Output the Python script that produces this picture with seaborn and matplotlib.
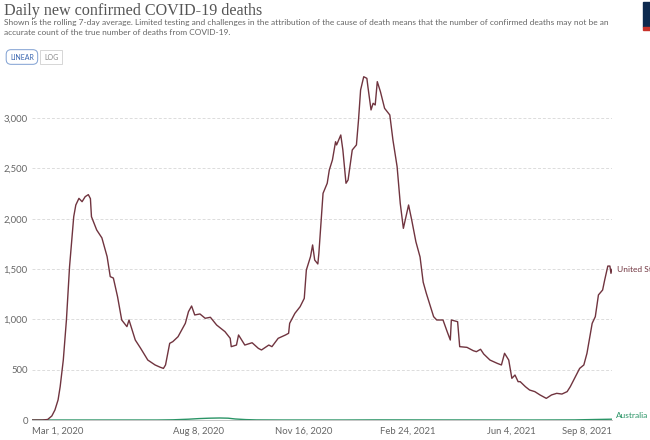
import numpy as np
import pandas as pd
import matplotlib
matplotlib.use("Agg")
import matplotlib.pyplot as plt
from matplotlib.patches import Rectangle
import seaborn as sns

# Données (jours depuis le 1er mars 2020, moyenne glissante 7 jours)
debut = pd.Timestamp("2020-03-01")

us_jours = [0, 10, 15, 19, 22, 25, 27, 30, 33, 36, 40, 42, 45, 48, 51, 54, 56, 57, 62, 67,
            72, 75, 78, 82, 86, 91, 93, 99, 104, 111, 118, 123, 126, 128, 132, 135, 140, 147,
            150, 153, 156, 161, 166, 171, 177, 185, 190, 191, 196, 198, 204, 211, 217, 220,
            227, 230, 236, 243, 246, 247, 252, 257, 261, 263, 267, 269, 271, 274, 275, 279,
            283, 285, 288, 291, 292, 296, 298, 301, 303, 307, 311, 313, 315, 318, 321, 322,
            325, 327, 329, 331, 334, 336, 338, 343, 346, 350, 353, 356, 361, 364, 368, 372,
            375, 378, 382, 385, 388, 391, 394, 398, 401, 402, 408, 410, 417, 423, 426, 430,
            433, 439, 446, 450, 453, 457, 460, 463, 466, 468, 473, 477, 482, 487, 493, 498,
            503, 508, 513, 516, 521, 525, 529, 532, 537, 540, 543, 547, 549, 552, 554, 555, 556]
us_deces = [0, 0, 5, 40, 100, 200, 331, 596, 994, 1524, 2021, 2137, 2203, 2170, 2220, 2240,
            2200, 2021, 1889, 1810, 1624, 1425, 1411, 1226, 994, 928, 994, 795, 715, 596, 547,
            524, 513, 547, 762, 779, 828, 961, 1077, 1133, 1044, 1054, 1011, 1021, 944, 878,
            812, 729, 745, 845, 745, 768, 712, 696, 745, 729, 812, 845, 862, 961, 1060, 1126,
            1209, 1491, 1624, 1740, 1590, 1551, 1657, 2253, 2353, 2485, 2585, 2766, 2734, 2833,
            2684, 2353, 2386, 2684, 2734, 2982, 3280, 3412, 3396, 3313, 3082, 3148, 3131, 3363,
            3264, 3181, 3098, 3032, 2783, 2518, 2154, 1905, 2137, 1988, 1772, 1620, 1370, 1259,
            1126, 1027, 994, 994, 994, 878, 795, 994, 977, 729, 722, 689, 679, 703, 656, 596,
            563, 547, 663, 596, 414, 447, 381, 381, 331, 298, 282, 249, 215, 249, 265, 258,
            282, 331, 431, 513, 547, 663, 961, 1027, 1243, 1292, 1392, 1530, 1530, 1458, 1500]

au_jours = [0, 120, 135, 150, 160, 170, 180, 188, 195, 205, 215, 240, 300, 330, 480, 520, 540, 556]
au_deces = [0, 0, 2, 8, 14, 18, 20, 18, 10, 4, 1, 0, 0, 1, 0, 1, 5, 8]

ticks_dates = ["2020-03-01", "2020-08-08", "2020-11-16", "2021-02-24", "2021-06-04", "2021-09-08"]
ticks_labels = ["Mar 1, 2020", "Aug 8, 2020", "Nov 16, 2020", "Feb 24, 2021", "Jun 4, 2021", "Sep 8, 2021"]
y_ticks = [0, 500, 1000, 1500, 2000, 2500, 3000]

couleurs = {"United States": "#70343f", "Australia": "#2a9466"}

df = pd.concat([
    pd.DataFrame({"date": debut + pd.to_timedelta(us_jours, unit="D"),
                  "deces": us_deces, "pays": "United States"}),
    pd.DataFrame({"date": debut + pd.to_timedelta(au_jours, unit="D"),
                  "deces": au_deces, "pays": "Australia"}),
])

sns.set_theme(style="white")
plt.rcParams["font.family"] = ["Lato", "DejaVu Sans"]

fig = plt.figure(figsize=(6.5, 4.4), dpi=100)
ax = fig.add_axes([32 / 650, 20 / 440, 580 / 650, 347.1 / 440])

# Grille horizontale en pointillés
for v in y_ticks[1:]:
    ax.axhline(v, color="#dcdcdc", lw=0.7, ls=(0, (3, 2)), zorder=0)

sns.lineplot(data=df, x="date", y="deces", hue="pays", palette=couleurs,
             hue_order=["Australia", "United States"], linewidth=1.0, legend=False, ax=ax)

fin = pd.Timestamp(ticks_dates[-1])
ax.set_xlim(debut, fin)
ax.set_ylim(0, 3450)

ax.set_yticks(y_ticks)
ax.set_yticklabels([f"{v:,}" for v in y_ticks])
ax.set_xticks(pd.to_datetime(ticks_dates))
ax.set_xticklabels(ticks_labels)
ax.tick_params(axis="y", length=0, pad=3, labelsize=6.8, labelcolor="#666666")
ax.tick_params(axis="x", length=3, width=0.6, color="#9a9a9a", pad=2,
               labelsize=6.8, labelcolor="#666666")
labels = ax.get_xticklabels()
labels[0].set_ha("left")
labels[-1].set_ha("right")
ax.set_xlabel("")
ax.set_ylabel("")

for cote in ["top", "right", "left"]:
    ax.spines[cote].set_visible(False)
ax.spines["bottom"].set_color("#bbbbbb")
ax.spines["bottom"].set_linewidth(0.6)

# Étiquettes en bout de courbe (coupées par le bord comme dans l'original)
ax.annotate("United States", xy=(fin, us_deces[-1]), xytext=(3.5, 0), textcoords="offset points",
            va="center", fontsize=6.0, color="#70343f", annotation_clip=False)
ax.annotate("Australia", xy=(fin, au_deces[-1]), xytext=(3, 3), textcoords="offset points",
            va="center", fontsize=6.0, color="#2a9466", annotation_clip=False)

# Titre et sous-titre
fig.text(4 / 650, 1 - 11 / 440, "Daily new confirmed COVID-19 deaths", fontsize=11.6,
         family=["Liberation Serif", "DejaVu Serif"], color="#555555", va="center")
fig.text(4 / 650, 1 - 27.5 / 440,
         "Shown is the rolling 7-day average. Limited testing and challenges in the attribution of the cause "
         "of death means that the number of confirmed deaths may not be an\n"
         "accurate count of the true number of deaths from COVID-19.",
         fontsize=6.0, color="#666666", va="center", linespacing=1.45)

# Boutons LINEAR / LOG
fig.text(10 / 650, 1 - 57 / 440, "LINEAR", fontsize=5.0, color="#3a66b0", va="center",
         bbox=dict(boxstyle="round,pad=0.55,rounding_size=0.7", fc="white", ec="#7e9fd2", lw=0.7))
fig.text(44 / 650, 1 - 57 / 440, "LOG", fontsize=5.0, color="#888888", va="center",
         bbox=dict(boxstyle="square,pad=0.55", fc="white", ec="#d0d0d0", lw=0.6))

# Logo coupé en haut à droite
fig.add_artist(Rectangle((643 / 650, 1 - 27 / 440), 7 / 650, 25 / 440,
                         transform=fig.transFigure, color="#0d2a4f"))
fig.add_artist(Rectangle((643 / 650, 1 - 30 / 440), 7 / 650, 3 / 440,
                         transform=fig.transFigure, color="#c8322a"))

fig.savefig("out.png", dpi=100)
